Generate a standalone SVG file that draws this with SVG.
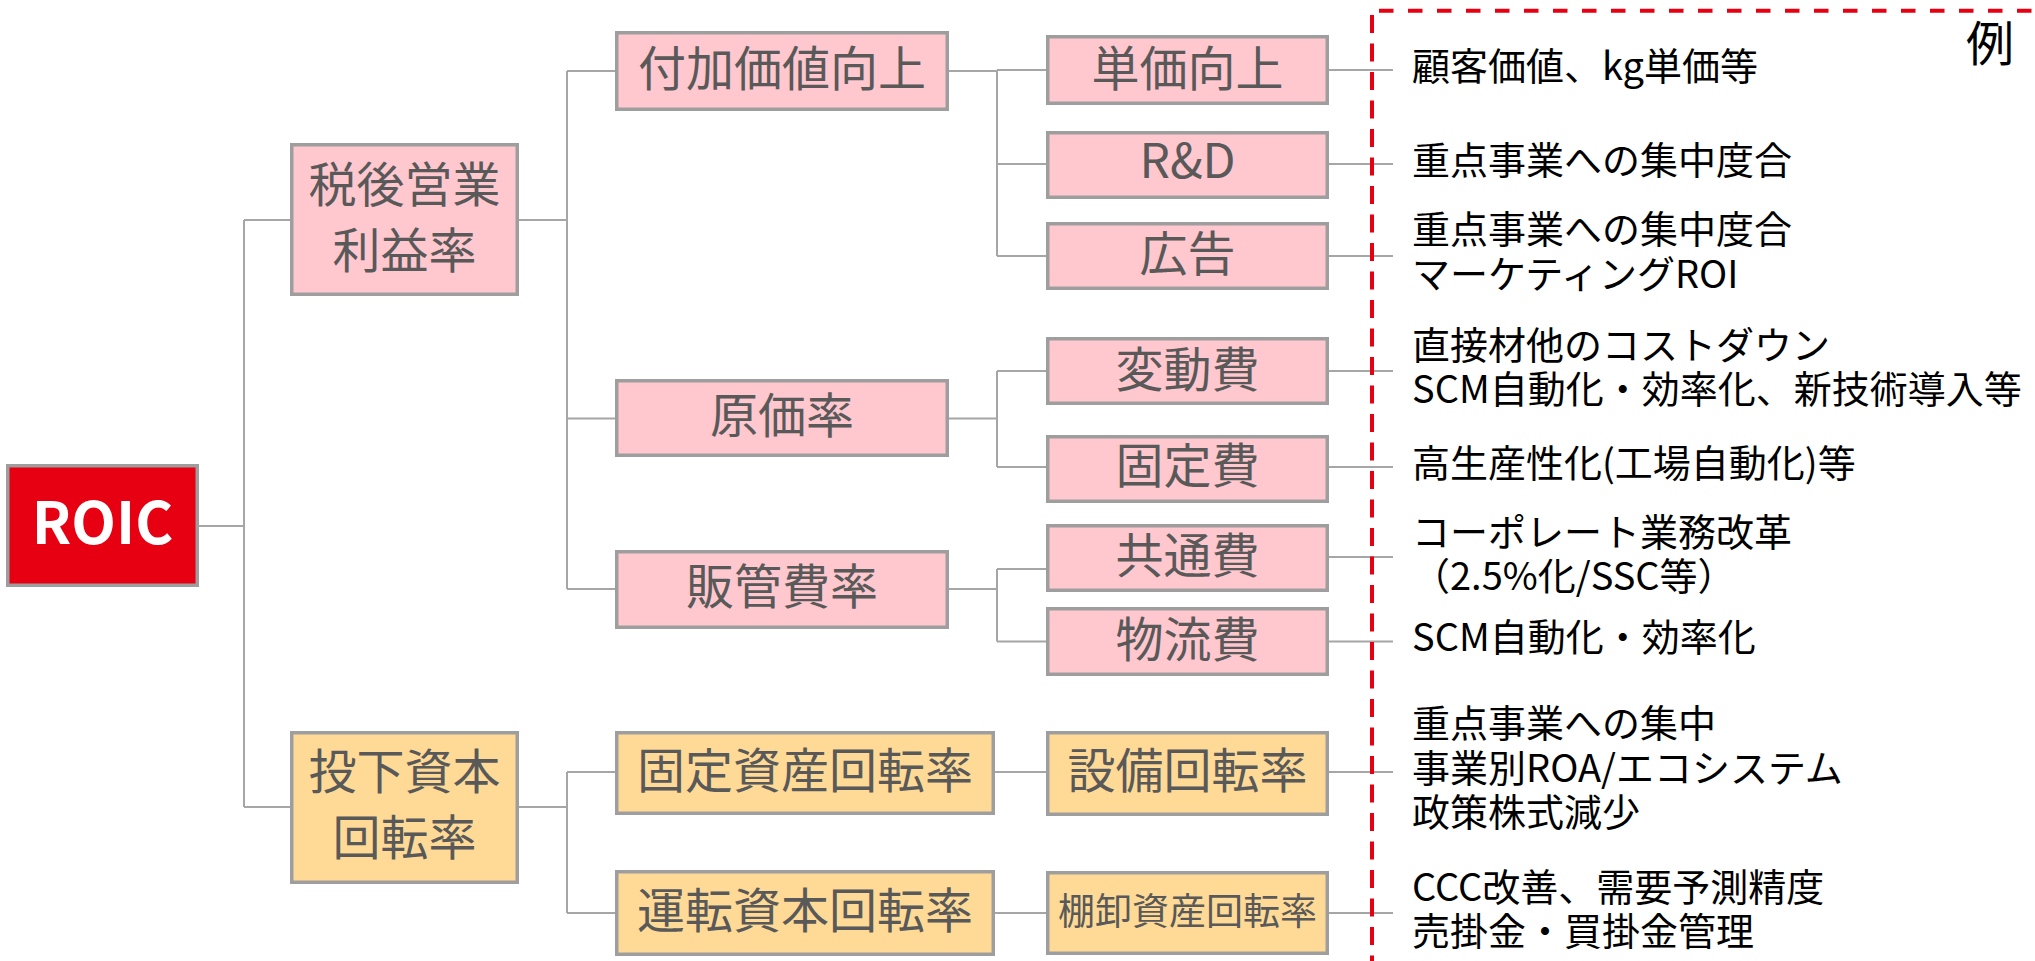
<svg xmlns="http://www.w3.org/2000/svg" width="2035" height="961" viewBox="0 0 2035 961">
<style>
.bx{stroke:#9E9E9E;stroke-width:3.5}
.pk{fill:#FFC7CE}
.or{fill:#FFDA96}
.rd{fill:#E60012}
.nt{font-family:"Noto Sans CJK JP","Noto Sans",sans-serif;font-size:48px;fill:#595959;text-anchor:middle}
.nt.sm{font-size:37px}
.rt{font-family:"Noto Sans CJK JP","Noto Sans",sans-serif;font-size:38px;fill:#000000}
.cn{fill:none;stroke:#A6A6A6;stroke-width:2}
.ds{fill:none;stroke:#E60012;stroke-width:4}
</style>
<rect width="2035" height="961" fill="#FFFFFF"/>
<g id="connectors">
<path class="cn" d="M199,526H244M244,220V807M244,220H290M244,807H290"/>
<path class="cn" d="M519,220H567M567,71V589M567,71H615M567,418.5H615M567,589H615"/>
<path class="cn" d="M519,807H567M567,772V913M567,772H615M567,913H615"/>
<path class="cn" d="M949,71H997M997,70V256M997,70H1046M997,164H1046M997,256H1046"/>
<path class="cn" d="M949,418.5H997M997,371V467M997,371H1046M997,467H1046"/>
<path class="cn" d="M949,589H997M997,569V641.5M997,569H1046M997,641.5H1046"/>
<path class="cn" d="M995,772H1046M995,913H1046"/>
<path class="cn" d="M1329,70H1393M1329,164H1393M1329,256H1393M1329,371H1393M1329,467H1393M1329,557H1393M1329,641.5H1393M1329,772H1393M1329,913H1393"/>
</g>
<g id="example-frame">
<path class="ds" d="M1372,15V961" stroke-dasharray="18 10.5"/>
<path class="ds" d="M1379,10.7H2035" stroke-dasharray="14.5 14.5"/>
<text x="1966" y="61" font-family="Noto Sans CJK JP,sans-serif" font-size="48" fill="#000000">例</text>
</g>
<g id="n-roic">
<rect class="bx rd" x="7.75" y="465.75" width="189.5" height="119.5"/>
<text x="102.5" y="544" font-family="Noto Sans CJK JP,Noto Sans,sans-serif" font-size="58" font-weight="700" fill="#FFFFFF" text-anchor="middle">ROIC</text>
</g>
<g id="n-nopat">
<rect class="bx pk" x="291.75" y="144.75" width="225.5" height="149.5"/>
<text class="nt" x="404.5" y="202">税後営業</text>
<text class="nt" x="404.5" y="268">利益率</text>
</g>
<g id="n-capital">
<rect class="bx or" x="291.75" y="732.75" width="225.5" height="149.5"/>
<text class="nt" x="404.5" y="789">投下資本</text>
<text class="nt" x="404.5" y="855">回転率</text>
</g>
<g id="n-value">
<rect class="bx pk" x="616.75" y="32.75" width="330.5" height="76.5"/>
<text class="nt" x="782" y="85.5">付加価値向上</text>
</g>
<g id="n-cost">
<rect class="bx pk" x="616.75" y="380.75" width="330.5" height="74.5"/>
<text class="nt" x="782" y="433">原価率</text>
</g>
<g id="n-sga">
<rect class="bx pk" x="616.75" y="551.75" width="330.5" height="75.5"/>
<text class="nt" x="782" y="604">販管費率</text>
</g>
<g id="n-fixed-asset">
<rect class="bx or" x="616.75" y="732.75" width="376.5" height="80.5"/>
<text class="nt" x="805" y="787.5">固定資産回転率</text>
</g>
<g id="n-working">
<rect class="bx or" x="616.75" y="871.75" width="376.5" height="82.5"/>
<text class="nt" x="805" y="927.5">運転資本回転率</text>
</g>
<g id="n-unitprice">
<rect class="bx pk" x="1047.75" y="36.75" width="279.5" height="66.5"/>
<text class="nt" x="1187.5" y="85.5">単価向上</text>
</g>
<g id="n-rd">
<rect class="bx pk" x="1047.75" y="132.75" width="279.5" height="64.5"/>
<text class="nt" x="1187.5" y="178">R&amp;D</text>
</g>
<g id="n-ad">
<rect class="bx pk" x="1047.75" y="223.75" width="279.5" height="64.5"/>
<text class="nt" x="1187.5" y="271">広告</text>
</g>
<g id="n-variable">
<rect class="bx pk" x="1047.75" y="338.75" width="279.5" height="64.5"/>
<text class="nt" x="1187.5" y="387">変動費</text>
</g>
<g id="n-fixedcost">
<rect class="bx pk" x="1047.75" y="436.75" width="279.5" height="64.5"/>
<text class="nt" x="1187.5" y="483">固定費</text>
</g>
<g id="n-common">
<rect class="bx pk" x="1047.75" y="525.75" width="279.5" height="64.5"/>
<text class="nt" x="1187.5" y="573">共通費</text>
</g>
<g id="n-logistics">
<rect class="bx pk" x="1047.75" y="608.75" width="279.5" height="65.5"/>
<text class="nt" x="1187.5" y="657">物流費</text>
</g>
<g id="n-equipment">
<rect class="bx or" x="1047.75" y="732.75" width="279.5" height="81.5"/>
<text class="nt" x="1187.5" y="787.5">設備回転率</text>
</g>
<g id="n-inventory">
<rect class="bx or" x="1047.75" y="872.75" width="279.5" height="80.5"/>
<text class="nt sm" x="1187.5" y="924.5">棚卸資産回転率</text>
</g>
<g id="examples">
<text class="rt" x="1412" y="80">顧客価値、kg単価等</text>
<text class="rt" x="1412" y="174">重点事業への集中度合</text>
<text class="rt" x="1412" y="243">重点事業への集中度合</text>
<text class="rt" x="1412" y="288">マーケティングROI</text>
<text class="rt" x="1412" y="358.5">直接材他のコストダウン</text>
<text class="rt" x="1412" y="403">SCM自動化・効率化、新技術導入等</text>
<text class="rt" x="1412" y="477">高生産性化(工場自動化)等</text>
<text class="rt" x="1412" y="546">コーポレート業務改革</text>
<text class="rt" x="1412" y="589.5">（2.5%化/SSC等）</text>
<text class="rt" x="1412" y="651">SCM自動化・効率化</text>
<text class="rt" x="1412" y="737">重点事業への集中</text>
<text class="rt" x="1412" y="781.5">事業別ROA/エコシステム</text>
<text class="rt" x="1412" y="826">政策株式減少</text>
<text class="rt" x="1412" y="901">CCC改善、需要予測精度</text>
<text class="rt" x="1412" y="944.5">売掛金・買掛金管理</text>
</g>
</svg>
